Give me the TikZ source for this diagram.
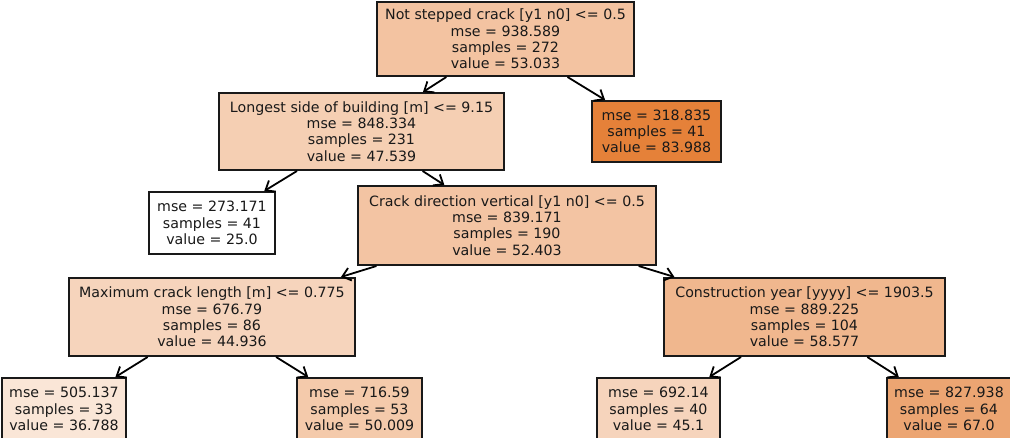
\documentclass[tikz,border=0pt]{standalone}
\usepackage{fontspec}
\setmainfont{DejaVu Sans}
\usetikzlibrary{arrows.meta}
\definecolor{cRoot}{RGB}{243,195,161}
\definecolor{cLong}{RGB}{245,207,179}
\definecolor{cDir}{RGB}{243,196,163}
\definecolor{cMax}{RGB}{246,212,188}
\definecolor{cCon}{RGB}{240,183,142}
\definecolor{cA}{RGB}{250,230,215}
\definecolor{cB}{RGB}{244,202,171}
\definecolor{cC}{RGB}{246,212,188}
\definecolor{cD}{RGB}{236,165,114}
\definecolor{cE}{RGB}{229,129,57}
\tikzset{
  tnode/.style={draw=black!90, line width=2pt, inner sep=0pt, align=center,
    font=\fontsize{14.2}{16.3}\selectfont, text=black!90},
  edge/.style={line width=1.8pt, -{Straight Barb[length=8pt,width=13pt,line width=1.8pt]}},
}
\begin{document}
\begin{tikzpicture}[x=1pt,y=-1pt]
\useasboundingbox (0,0) rectangle (1010,437);
\clip (0,0) rectangle (1010,437);
\node[tnode, fill=cRoot, minimum width=257pt, minimum height=74pt] (root) at (505.5,39)
  {Not stepped crack [y1 n0] <= 0.5\\mse = 938.589\\samples = 272\\value = 53.033};
\node[tnode, fill=cE, minimum width=129pt, minimum height=61pt] (l318) at (656.5,131.5)
  {mse = 318.835\\samples = 41\\value = 83.988};
\node[tnode, fill=cLong, minimum width=285pt, minimum height=77pt] (long) at (361.5,131.5)
  {Longest side of building [m] <= 9.15\\mse = 848.334\\samples = 231\\value = 47.539};
\node[tnode, fill=white, minimum width=126pt, minimum height=62pt] (l25) at (212,223)
  {mse = 273.171\\samples = 41\\value = 25.0};
\node[tnode, fill=cDir, minimum width=298pt, minimum height=79pt] (dir) at (507,225.5)
  {Crack direction vertical [y1 n0] <= 0.5\\mse = 839.171\\samples = 190\\value = 52.403};
\node[tnode, fill=cMax, minimum width=286pt, minimum height=78pt] (max) at (212,317)
  {Maximum crack length [m] <= 0.775\\mse = 676.79\\samples = 86\\value = 44.936};
\node[tnode, fill=cCon, minimum width=281pt, minimum height=78pt] (con) at (804.5,317)
  {Construction year [yyyy] <= 1903.5\\mse = 889.225\\samples = 104\\value = 58.577};
\node[tnode, fill=cA, minimum width=124pt, minimum height=62pt] (l505) at (64,409)
  {mse = 505.137\\samples = 33\\value = 36.788};
\node[tnode, fill=cB, minimum width=125pt, minimum height=62pt] (l716) at (359.5,409)
  {mse = 716.59\\samples = 53\\value = 50.009};
\node[tnode, fill=cC, minimum width=123pt, minimum height=62pt] (l692) at (658.5,409)
  {mse = 692.14\\samples = 40\\value = 45.1};
\node[tnode, fill=cD, minimum width=124pt, minimum height=62pt] (l827) at (949,409)
  {mse = 827.938\\samples = 64\\value = 67.0};
\draw[edge] (root) -- (long);
\draw[edge] (root) -- (l318);
\draw[edge] (long) -- (l25);
\draw[edge] (long) -- (dir);
\draw[edge] (dir) -- (max);
\draw[edge] (dir) -- (con);
\draw[edge] (max) -- (l505);
\draw[edge] (max) -- (l716);
\draw[edge] (con) -- (l692);
\draw[edge] (con) -- (l827);
\end{tikzpicture}
\end{document}
